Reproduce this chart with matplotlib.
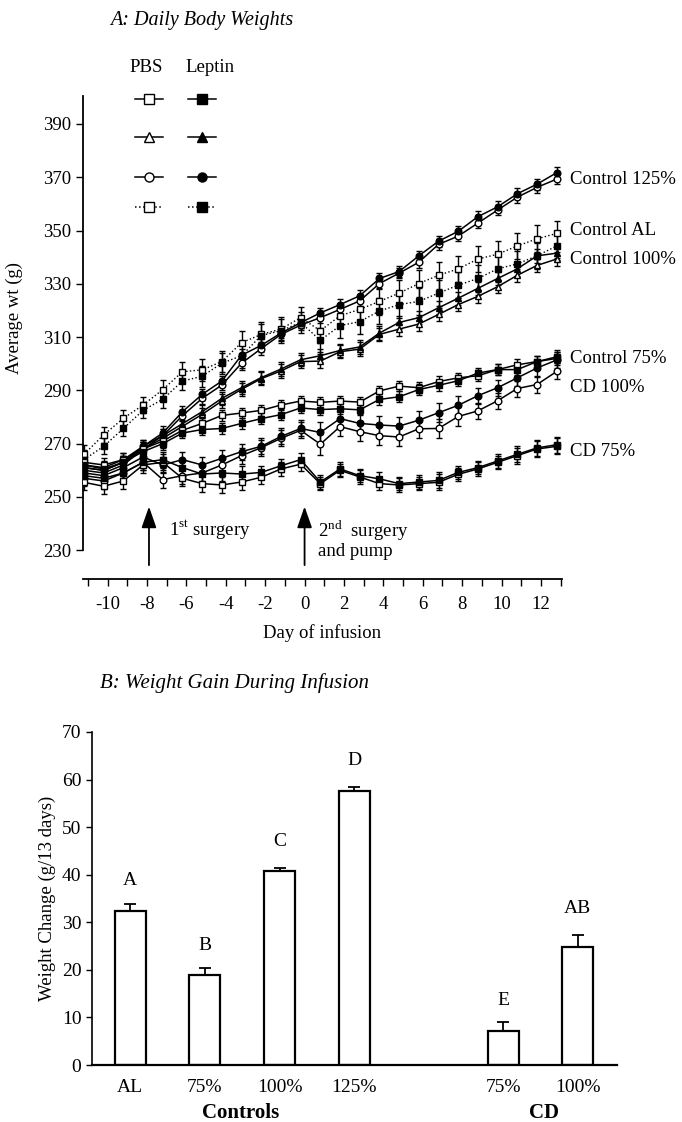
import numpy as np
import matplotlib
matplotlib.use('Agg')
import matplotlib.pyplot as plt
from matplotlib.lines import Line2D

plt.rcParams['font.family'] = 'Liberation Serif'
plt.rcParams['mathtext.fontset'] = 'custom'
plt.rcParams['mathtext.rm'] = 'Liberation Serif'
plt.rcParams['font.size'] = 13

# ---- panel A data: daily body weights (g), days -11..13 ----
days = np.arange(-11, 14)

al_pbs = [266, 273.3, 279.5, 284.5, 290.3, 297, 297.7, 300.8, 307.9, 311, 313, 317.3, 312.4,
          318, 320.4, 323.4, 326.5, 330.1, 333.2, 335.6, 339.3, 341.1, 344.2, 346.9, 348.9]
al_lep = [264, 269, 275.7, 282.5, 286.7, 293.5, 295.3, 300.2, 303, 310.6, 312.4, 315.5, 308.8,
          314.3, 315.8, 319.8, 322.2, 323.4, 326.5, 329.5, 332, 335.6, 337.5, 340.5, 344.2]
c125_pbs = [261, 260, 263, 268, 273, 280.5, 287, 292, 300.2, 305.7, 311, 314.5, 317.3,
            320.4, 323.6, 330.1, 334, 338.1, 344.8, 347.9, 352.8, 357.7, 362.5, 366.2, 369.3]
c125_lep = [262, 261, 264, 269, 274, 282, 288.5, 293.5, 303.2, 306.9, 311.5, 315.4, 319.1,
            322.2, 325.5, 332, 334.6, 340.5, 346, 349.7, 355.2, 358.9, 363.8, 367.4, 371.7]
c100_pbs = [260, 259, 262, 268, 272, 276.5, 281, 286, 290.4, 294.4, 297.3, 300.8, 301,
            304.5, 305.5, 311, 313, 314.9, 318.5, 322.2, 325.3, 328.9, 333.2, 336.9, 339.3]
c100_lep = [261, 260, 263, 269, 273, 277.5, 282, 287, 291, 294.8, 298, 301.5, 303,
            305, 306.3, 311.5, 315.5, 317.3, 321, 324.6, 328.3, 332, 335.6, 340.5, 341.5]
c75_pbs = [263, 262, 264, 268, 271, 275, 277.6, 280.6, 281.5, 282.5, 284.5, 286, 285.5,
           286, 285.6, 289.8, 291.6, 291, 293.3, 294.7, 295.5, 297.8, 299.6, 300.8, 302]
c75_lep = [262, 260.5, 263, 267, 270, 274, 275.3, 275.7, 277.6, 279.4, 280.9, 283.4, 282.8,
           283.1, 282.7, 286.6, 287.6, 290.3, 291.9, 293.6, 296.5, 297.8, 297.8, 300.8, 302.6]
cd100_pbs = [257, 256, 259, 263, 256.5, 258, 259, 262, 265.5, 268.5, 272, 275, 269.8,
             276.4, 274.5, 273, 272.5, 275.6, 275.7, 280.2, 282.3, 286.1, 290.7, 292.2, 297.1]
cd100_lep = [259, 258, 261, 265, 262, 264, 262, 264.5, 267, 269, 272.7, 275.7, 274.2,
             279.4, 277.6, 277, 276.6, 278.8, 281.6, 284.4, 288, 291, 294.7, 298.4, 301.4]
cd75_pbs = [255.5, 254, 256, 262, 263, 257, 255, 254.5, 255.6, 257.4, 260.5, 262.3, 255,
            260, 257.5, 255, 254.5, 255, 255.5, 258.5, 260.5, 263, 265.5, 268, 269]
cd75_lep = [258, 257, 259, 263, 264, 261, 258.6, 259, 258.6, 259.2, 261.7, 264, 255.6,
            260.5, 258, 256.8, 255, 255.6, 256.2, 259.2, 261, 263.5, 266, 268.4, 269.6]

# SEM per group (shared by PBS / leptin)
al_err = [3.5, 3, 3, 3, 3.5, 3.5, 4, 4, 4.5, 4.5, 4.5, 4, 4.5, 4.5, 4.5, 5, 5, 5, 5, 5, 5, 5, 5, 5, 4.5]
c125_err = [2.5, 2.5, 2.5, 2.5, 2.5, 2, 2, 2, 2.5, 2.5, 2, 2, 2, 2, 2, 2, 2, 2, 2, 2, 2, 2, 2, 2, 2]
c100_err = [2.5, 2.5, 2.5, 2.5, 2.5, 2.5, 2.5, 2.5, 2.5, 2.5, 2.5, 2.5, 2.5, 2.5, 2.5, 2.5, 2.5, 2.5, 2.5, 2.5, 2.5, 2.5, 2.5, 2.5, 2.5]
c75_err = [2.5, 2.5, 2.5, 2.5, 2.5, 2, 2, 2, 2, 2, 2, 2, 2, 2, 2, 2, 2, 2, 2, 2, 2, 2, 2, 2, 2.5]
cd100_err = [3, 3, 3, 3, 3, 3, 3, 3, 3, 3, 3, 3, 4, 3.5, 3.5, 3.5, 3.5, 3.5, 3.5, 3.5, 3, 3, 3, 3, 3]
cd75_err = [3, 3, 3, 3, 3, 3, 3, 3, 3, 2.5, 2.5, 2.5, 2.5, 2.5, 2.5, 2.5, 2.5, 2.5, 3, 2.5, 2.5, 2.5, 3, 3, 3]

# group: (pbs, leptin, sem, marker, linestyle, label, label_y)
groups = [
    (c125_pbs, c125_lep, c125_err, 'o', '-', 'Control 125%', 369),
    (al_pbs, al_lep, al_err, 's', ':', 'Control AL', 350),
    (c100_pbs, c100_lep, c100_err, '^', '-', 'Control 100%', 339),
    (c75_pbs, c75_lep, c75_err, 's', '-', 'Control 75%', 302),
    (cd100_pbs, cd100_lep, cd100_err, 'o', '-', 'CD 100%', 291),
    (cd75_pbs, cd75_lep, cd75_err, 's', '-', 'CD 75%', 267),
]

# ---- panel B data: weight gain during infusion ----
bar_pos = [0, 1, 2, 3, 5, 6]
bar_labels = ['AL', '75%', '100%', '125%', '75%', '100%']
gain = [32.4, 19.0, 40.7, 57.6, 7.1, 24.7]
gain_err = [1.5, 1.4, 0.8, 0.8, 1.9, 2.6]
letters = ['A', 'B', 'C', 'D', 'E', 'AB']
letter_y = [38.8, 25.2, 46.9, 64.0, 13.6, 32.8]

fig = plt.figure(figsize=(6.82, 11.22), dpi=100)
W, H = 682.0, 1122.0

# ================= panel A =================
ax = fig.add_axes([83 / W, 1 - 579 / H, (561.6 - 83) / W, (579 - 96) / H])
xs = days - 0.2   # points sit just left of the day ticks, as in the original
for pbs, lep, err, mk, ls, lab, ly in groups:
    for vals, face in ((pbs, 'white'), (lep, 'black')):
        ax.errorbar(xs, vals, yerr=err, fmt='none', ecolor='black', elinewidth=1,
                    capsize=2.5, capthick=1, zorder=2)
        ax.plot(xs, vals, color='black', ls=ls, lw=1.1 if ls == '-' else 1.0,
                marker=mk, ms=4.8, mfc=face, mec='black', mew=1, zorder=3)
    ax.text(13.5, ly, lab, ha='left', va='center', fontsize=13.5, clip_on=False)

ax.set_xlim(-11.25, 13.05)
ax.set_ylim(219.2, 400.5)
ax.spines['top'].set_visible(False)
ax.spines['right'].set_visible(False)
ax.spines['left'].set_bounds(230, 400.5)
ax.spines['left'].set_linewidth(1.3)
ax.spines['bottom'].set_linewidth(1.3)
ax.set_yticks(np.arange(230, 391, 20))
ax.set_xticks(days)
ax.set_xticklabels([str(d) if d % 2 == 0 else '' for d in days])
ax.tick_params(axis='both', direction='out', length=5, width=1, labelsize=13.5)
ax.tick_params(axis='x', pad=7)
ax.set_xlabel('Day of infusion', fontsize=13.5, labelpad=8)
ax.set_ylabel('Average wt (g)', fontsize=13.5)
ax.yaxis.set_label_coords(-0.125, 0.54)

# surgery arrows
for d in (-7.9, 0):
    ax.annotate('', xy=(d, 246.4), xytext=(d, 224.4),
                arrowprops=dict(arrowstyle='-|>,head_width=0.35,head_length=1.0',
                                color='black', lw=1.3, shrinkA=0, shrinkB=0))
ax.text(-6.9, 237.5, r'1$^{\mathrm{st}}$ surgery', fontsize=13.5, va='center')
ax.text(0.7, 237.5, r'2$^{\mathrm{nd}}$  surgery', fontsize=13.5, va='center')
ax.text(0.7, 229.4, 'and pump', fontsize=13.5, va='center')

fig.text(110 / W, 1 - 21 / H, 'A: Daily Body Weights', style='italic', fontsize=14.5, va='center')

# legend drawn by hand
fig.text(146 / W, 1 - 67 / H, 'PBS', ha='center', va='center', fontsize=13.5)
fig.text(210 / W, 1 - 67 / H, 'Leptin', ha='center', va='center', fontsize=13.5)
leg_rows = [('s', '-', 99), ('^', '-', 137), ('o', '-', 177), ('s', ':', 207)]
for mk, ls, yy in leg_rows:
    for xc, face in ((149, 'white'), (202, 'black')):
        fig.add_artist(Line2D([(xc - 14) / W, (xc + 14) / W], [1 - yy / H, 1 - yy / H],
                              color='black', ls=ls, lw=1.1, transform=fig.transFigure))
        fig.add_artist(Line2D([xc / W], [1 - yy / H], marker=mk, ms=6.5, mfc=face,
                              mec='black', mew=1, transform=fig.transFigure))

# ================= panel B =================
ax2 = fig.add_axes([91.8 / W, 1 - 1065 / H, (616.5 - 91.8) / W, (1065 - 732) / H])
ax2.bar(bar_pos, gain, width=0.415, color='white', edgecolor='black', linewidth=1.6, zorder=2)
ax2.errorbar(bar_pos, gain, yerr=[np.zeros(len(gain)), gain_err], fmt='none',
             ecolor='black', elinewidth=1.3, capsize=4, capthick=1.3, zorder=3)
for p, t, ty in zip(bar_pos, letters, letter_y):
    ax2.text(p, ty, t, ha='center', va='center', fontsize=14)
ax2.set_xlim(-0.516, 6.517)
ax2.set_ylim(0, 70)
ax2.spines['top'].set_visible(False)
ax2.spines['right'].set_visible(False)
ax2.spines['left'].set_linewidth(1.2)
ax2.spines['bottom'].set_linewidth(1.6)
ax2.set_yticks(np.arange(0, 71, 10))
ax2.set_xticks(bar_pos)
ax2.set_xticklabels(bar_labels)
ax2.tick_params(axis='x', length=0, pad=10, labelsize=14)
ax2.tick_params(axis='y', direction='out', length=4, width=1, labelsize=14)
ax2.set_ylabel('Weight Change (g/13 days)', fontsize=13.5)
ax2.text(1.48, -0.143, 'Controls', transform=ax2.get_xaxis_transform(), ha='center',
         va='center', fontsize=15, fontweight='bold')
ax2.text(5.54, -0.143, 'CD', transform=ax2.get_xaxis_transform(), ha='center',
         va='center', fontsize=15, fontweight='bold')

fig.text(100 / W, 1 - 683 / H, 'B: Weight Gain During Infusion', style='italic',
         fontsize=15, va='center')

fig.savefig('out.png', dpi=100)
